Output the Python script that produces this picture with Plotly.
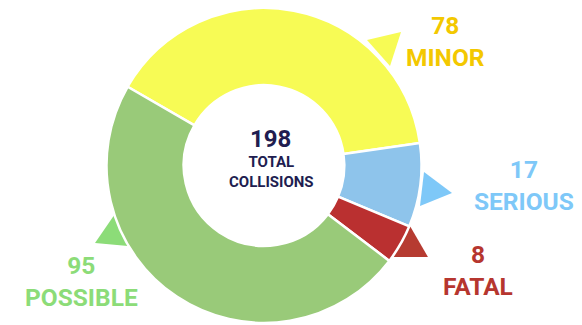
import plotly.graph_objects as go

# -----------------------------------------------------
# Data
# -----------------------------------------------------

severity = ["MINOR", "SERIOUS", "FATAL", "POSSIBLE"]
collisions = [78, 17, 8, 95]

slice_colors = ["#f7fb55", "#8ec4eb", "#ba3030", "#99ca79"]
label_colors = ["#f3c800", "#7ec8f8", "#b6362f", "#8cdc78"]
pointer_colors = ["#f7fb55", "#7ec8f8", "#b63b31", "#8cdc78"]

W, H = 582, 325
OFF = 8  # page body margin in the browser

# label anchors (pixel centres) and callout triangles (pixel vertices)
label_pos = [(445, 42), (524, 185), (478, 270), (81, 281)]
pointers = [
    [(367, 40), (401, 32), (390, 66)],
    [(424, 172), (452, 193), (420, 206)],
    [(410, 226), (428, 257), (393, 257)],
    [(115, 214), (128, 246), (95, 243)],
]


def px(x, y):
    return (x - OFF) / W, 1 - (y - OFF) / H


# -----------------------------------------------------
# Figure
# -----------------------------------------------------

fig = go.Figure()

x0, y0 = px(264 - 159, 323)
x1, y1 = px(264 + 159, 5)

fig.add_trace(
    go.Pie(
        labels=severity,
        values=collisions,
        hole=0.51,
        sort=False,
        direction="clockwise",
        rotation=-60,
        textinfo="none",
        hoverinfo="label+value",
        marker=dict(colors=slice_colors, line=dict(color="white", width=2.5)),
        domain=dict(x=[x0, x1], y=[y0, min(y1, 1)]),
        showlegend=False,
    )
)

shapes = []
for pts, col in zip(pointers, pointer_colors):
    path = "M " + " L ".join(
        f"{px(x, y)[0]:.4f},{px(x, y)[1]:.4f}" for x, y in pts
    ) + " Z"
    shapes.append(
        dict(
            type="path",
            path=path,
            xref="paper",
            yref="paper",
            fillcolor=col,
            line=dict(width=0),
            layer="below",
        )
    )

annotations = []
for name, val, col, (lx, ly) in zip(severity, collisions, label_colors, label_pos):
    x, y = px(lx, ly)
    annotations.append(
        dict(
            x=x,
            y=y,
            xref="paper",
            yref="paper",
            xanchor="center",
            yanchor="middle",
            text=f"{val}<br>{name}",
            showarrow=False,
            align="center",
            font=dict(family="Roboto", size=24.5, color=col, weight="bold"),
        )
    )

# centre text
total = sum(collisions)
cx, cy = px(270, 139)
annotations.append(
    dict(
        x=cx, y=cy, xref="paper", yref="paper",
        xanchor="center", yanchor="middle",
        text=f"<b>{total}</b>",
        showarrow=False,
        font=dict(family="Roboto", size=24, color="#211d50"),
    )
)
cx, cy = px(271, 172)
annotations.append(
    dict(
        x=cx, y=cy, xref="paper", yref="paper",
        xanchor="center", yanchor="middle",
        text="<b>TOTAL<br>COLLISIONS</b>",
        showarrow=False,
        align="center",
        font=dict(family="Roboto", size=15, color="#211d50"),
    )
)

fig.update_layout(
    width=W,
    height=H,
    margin=dict(l=0, r=0, t=0, b=0),
    paper_bgcolor="white",
    plot_bgcolor="white",
    shapes=shapes,
    annotations=annotations,
)

fig.write_html("out.html")
